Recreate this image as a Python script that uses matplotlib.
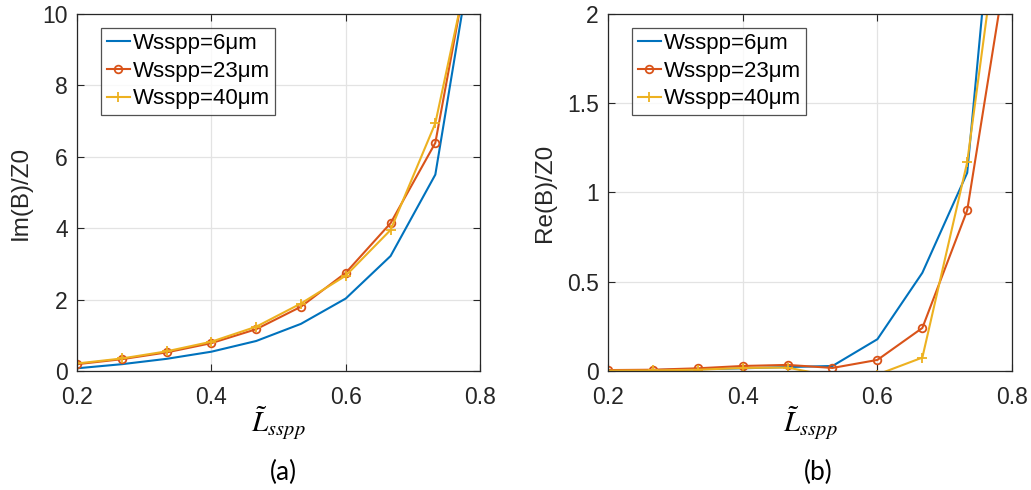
import matplotlib
matplotlib.use("Agg")
import matplotlib.pyplot as plt

plt.rcParams['font.family'] = ['Liberation Sans', 'DejaVu Sans']
plt.rcParams['mathtext.fontset'] = 'stix'

x = [0.2, 0.2667, 0.3333, 0.4, 0.4667, 0.5333, 0.6, 0.6667, 0.7333, 0.8]

im_6 = [0.075, 0.19, 0.34, 0.54, 0.84, 1.32, 2.03, 3.22, 5.5, 13.1]
im_23 = [0.19, 0.33, 0.52, 0.78, 1.17, 1.80, 2.75, 4.14, 6.39, 13.2]
im_40 = [0.21, 0.35, 0.55, 0.82, 1.24, 1.89, 2.67, 3.95, 6.94, 12.8]

re_6 = [0.005, 0.005, 0.01, 0.015, 0.022, 0.028, 0.178, 0.55, 1.11, 3.8]
re_23 = [0.005, 0.007, 0.015, 0.028, 0.034, 0.017, 0.062, 0.241, 0.90, 2.47]
re_40 = [0.002, 0.003, 0.007, 0.017, 0.019, -0.03, -0.02, 0.075, 1.17, 3.05]

labels = ['Wsspp=6μm', 'Wsspp=23μm', 'Wsspp=40μm']
colors = ['#0072BD', '#D95319', '#EDB120']

fig = plt.figure(figsize=(10.31, 4.9), dpi=100)
ax1 = fig.add_axes([0.0747, 0.2429, 0.391, 0.7286])
ax2 = fig.add_axes([0.5897, 0.2429, 0.392, 0.7286])

def draw(ax, ys, ylim, yticks, ylabel, ylabelpad):
    ax.plot(x, ys[0], color=colors[0], lw=1.5, label=labels[0])
    ax.plot(x, ys[1], color=colors[1], lw=1.5, marker='o', ms=5.5, mfc='none',
            mew=1.3, label=labels[1])
    ax.plot(x, ys[2], color=colors[2], lw=1.5, marker='+', ms=6.5, mew=1.3,
            label=labels[2])
    ax.set_xlim(0.2, 0.8)
    ax.set_ylim(*ylim)
    ax.set_xticks([0.2, 0.4, 0.6, 0.8])
    ax.set_xticklabels(['0.2', '0.4', '0.6', '0.8'])
    ax.set_yticks(yticks)
    ax.set_yticklabels([('%g' % v) for v in yticks])
    ax.grid(True, color='#e3e3e3', lw=0.9)
    ax.set_axisbelow(True)
    ax.tick_params(direction='in', top=True, right=True, labelsize=16.5,
                   length=5, width=0.8, colors='#262626')
    ax.tick_params(axis='x', pad=11)
    ax.tick_params(axis='y', pad=6.5)
    for s in ax.spines.values():
        s.set_color('#262626')
        s.set_linewidth(0.9)
    ax.set_ylabel(ylabel, fontsize=17.5, color='#262626', labelpad=ylabelpad)
    ax.set_xlabel(r'$\tilde{L}_{sspp}$', fontsize=21, labelpad=-3)
    leg = ax.legend(loc='upper left', bbox_to_anchor=(0.06, 0.962), fontsize=16,
                    frameon=True, fancybox=False, edgecolor='#262626',
                    handlelength=1.05, handletextpad=0.12, labelspacing=0.3,
                    borderpad=0.25, borderaxespad=0.0)
    leg.get_frame().set_linewidth(0.9)

draw(ax1, [im_6, im_23, im_40], (0, 10), [0, 2, 4, 6, 8, 10], 'Im(B)/Z0', 8)
draw(ax2, [re_6, re_23, re_40], (0, 2), [0, 0.5, 1, 1.5, 2], 'Re(B)/Z0', 8)

fig.text(0.2745, 0.036, '(a)', ha='center', va='center', fontsize=19,
         family=['Lato', 'DejaVu Sans'])
fig.text(0.794, 0.036, '(b)', ha='center', va='center', fontsize=19,
         family=['Lato', 'DejaVu Sans'])

fig.savefig('out.png', dpi=100)
